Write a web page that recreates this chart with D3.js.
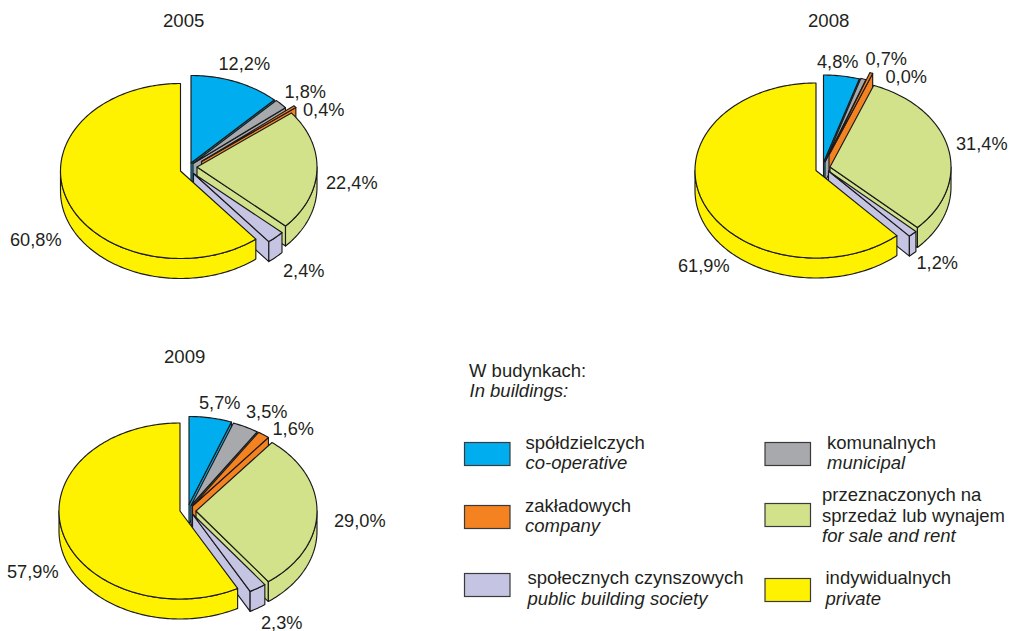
<!DOCTYPE html>
<html><head><meta charset="utf-8">
<script src="https://cdn.jsdelivr.net/npm/d3@7"></script>
<style>html,body{margin:0;padding:0;background:#fff}svg{display:block}text{font-family:"Liberation Sans",Arial,sans-serif;fill:#231f20}</style>
</head><body>
<script>
// --- data ---
const categories = ["co-operative","municipal","company","forSale","society","private"];
const years = ["2005","2008","2009"];
const values2005 = [12.2,1.8,0.4,22.4,2.4,60.8];
const values2008 = [4.8,0.7,0.0,31.4,1.2,61.9];
const values2009 = [5.7,3.5,1.6,29.0,2.3,57.9];
const colours = ["#00aeef","#a7a9ac","#f58220","#d2e28b","#c5c5e3","#fff200"];
const legendPolish = [["spółdzielczych"],["komunalnych"],["zakładowych"],["przeznaczonych na","sprzedaż lub wynajem"],["społecznych czynszowych"],["indywidualnych"]];
const legendEnglish = ["co-operative","municipal","company","for sale and rent","public building society","private"];

// --- layout (not data) ---
const W=1009,H=631, DEPTH=20, FS=18.2, TFS=18.6, LFS=18.5;
const minShare=0.4; // a 0.0% slice is still drawn as a sliver in the source
const pies=[
 {year:"2005",values:values2005,rx:120,ry:87.5,titleAt:[163,27],
  centres:[[191,163],[193,163.5],[201.5,161.5],[197,167],[193.5,173.5],[180.5,171]],
  labelAt:[[218.5,69.5],[284.5,97.5],[303,116],[326,189],[283,277],[10,246]]},
 {year:"2008",values:values2008,rx:121,ry:87.5,titleAt:[808,27],
  centres:[[823.5,162.5],[825,162],[829,155],[830,167],[828.5,171],[816,170.5]],
  labelAt:[[817,68],[865.5,65],[885.5,83],[956,150],[916.5,269],[678,272]]},
 {year:"2009",values:values2009,rx:121,ry:88,titleAt:[164,363],
  centres:[[189,504.5],[191,505.5],[192.5,506],[196,511],[192.5,514],[180,511]],
  labelAt:[[199,409],[246,418],[272.5,435],[334,527],[261,628.5],[7,578]]}
];
const boxW=45.5, boxH=23;
const legendBoxes=[[464.5,442.5],[765,442.5],[464.5,505.5],[765,503.5],[464.5,573.5],[765,578.5]];
const legendText=[[525.5,448.5,469],[827,448.5,469],[525,511.5,532],[822,500.5,542],[527.5,584,605],[825.5,584,605]];

const svg=d3.select("body").append("svg").attr("width",W).attr("height",H);
const pieGen=d3.pie().sort(null).value(v=>Math.max(v,minShare));
const line=d3.line();
const stroke="#1a1a1a", sw=1.15;

pies.forEach(p=>{
  const g=svg.append("g");
  const arcs=pieGen(p.values);
  const pt=(c,a,d=0)=>[c[0]+p.rx*Math.sin(a), c[1]-p.ry*Math.cos(a)+d];
  const steps=(a0,a1)=>{const n=Math.max(2,Math.ceil((a1-a0)/0.02));return d3.range(n+1).map(i=>a0+(a1-a0)*i/n);};
  const draw=(pts,col)=>g.append("path").attr("d",line(pts)+"Z").attr("fill",col)
     .attr("stroke",stroke).attr("stroke-width",sw).attr("stroke-linejoin","round");
  arcs.forEach((s,i)=>{
    const c=p.centres[i], col=colours[i], a0=s.startAngle, a1=s.endAngle;
    if(Math.sin(a1)>0.001){
      const e=pt(c,a1);
      draw([c,e,[e[0],e[1]+DEPTH],[c[0],c[1]+DEPTH]],col);
    }
    if(Math.sin(a0)<-0.001){
      const e=pt(c,a0);
      draw([c,e,[e[0],e[1]+DEPTH],[c[0],c[1]+DEPTH]],col);
    }
    const f0=Math.max(a0,Math.PI/2), f1=Math.min(a1,3*Math.PI/2);
    if(f1>f0){
      const top=steps(f0,f1).map(a=>pt(c,a));
      const bot=steps(f0,f1).reverse().map(a=>pt(c,a,DEPTH));
      draw(top.concat(bot),col);
    }
    draw([c].concat(steps(a0,a1).map(a=>pt(c,a))),col);
  });
  g.append("text").attr("x",p.titleAt[0]).attr("y",p.titleAt[1]).attr("font-size",TFS).text(p.year);
  p.values.forEach((v,i)=>{
    g.append("text").attr("x",p.labelAt[i][0]).attr("y",p.labelAt[i][1]).attr("font-size",FS)
     .text(v.toFixed(1).replace(".",",")+"%");
  });
});

// legend
const leg=svg.append("g");
leg.append("text").attr("x",469).attr("y",376.5).attr("font-size",LFS).text("W budynkach:");
leg.append("text").attr("x",469.5).attr("y",397).attr("font-size",LFS).attr("font-style","italic").text("In buildings:");
categories.forEach((c,i)=>{
  leg.append("rect").attr("x",legendBoxes[i][0]).attr("y",legendBoxes[i][1]).attr("width",boxW).attr("height",boxH)
     .attr("fill",colours[i]).attr("stroke","#3a3a3a").attr("stroke-width",1.2);
  const [x,y0,yEn]=legendText[i];
  legendPolish[i].forEach((t,j)=>leg.append("text").attr("x",x).attr("y",y0+j*21).attr("font-size",LFS).text(t));
  leg.append("text").attr("x",x).attr("y",yEn).attr("font-size",LFS).attr("font-style","italic").text(legendEnglish[i]);
});
</script>
</body></html>
